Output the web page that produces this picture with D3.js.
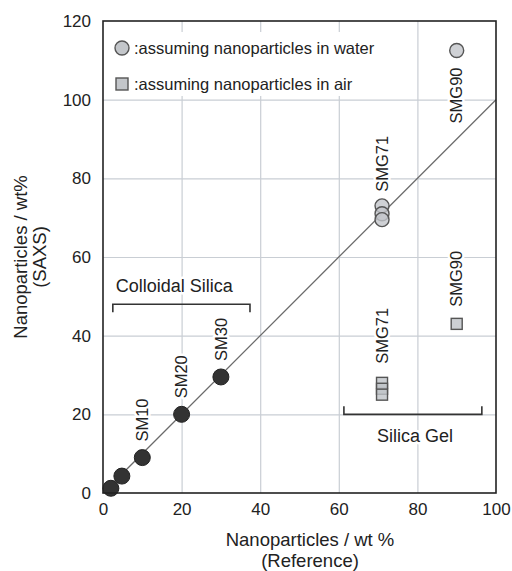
<!DOCTYPE html>
<html>
<head>
<meta charset="utf-8">
<script src="https://cdn.jsdelivr.net/npm/d3@7"></script>
<style>
  html, body { margin: 0; padding: 0; background: #fff; }
  svg { display: block; }
  text { font-family: "Liberation Sans", Arial, Helvetica, sans-serif; fill: #222; }
</style>
</head>
<body>
<svg id="chart" width="512" height="571"></svg>
<script>
// ---- data ----
const xTicks = [0, 20, 40, 60, 80, 100];
const yTicks = [0, 20, 40, 60, 80, 100, 120];
const colloidX = [2, 4.8, 10, 20, 30];
const colloidY = [1.2, 4.3, 9, 20, 29.5];
const colloidLabels = ["", "", "SM10", "SM20", "SM30"];
const waterX = [71, 71, 71, 90];
const waterY = [73, 71, 69.5, 112.5];
const airX = [71, 71, 71, 90];
const airY = [28, 26.5, 25, 43];
const legendLabels = [":assuming nanoparticles in water", ":assuming nanoparticles in air"];
const xTitle = ["Nanoparticles / wt %", "(Reference)"];
const yTitle = ["Nanoparticles / wt%", "(SAXS)"];
const bracketColloid = [2.5, 37.4, 48];
const bracketGel = [61.3, 96.4, 20];

// ---- layout ----
const svg = d3.select("#chart");
const L = 103, R = 496, T = 21, B = 493;
const x = d3.scaleLinear().domain([0, 100]).range([L, R]);
const y = d3.scaleLinear().domain([0, 120]).range([B, T]);
const gridColor = "#c9ced4";

// grid
svg.append("g").attr("transform", `translate(0,${B})`)
  .call(d3.axisBottom(x).tickValues(xTicks.slice(1, -1)).tickSize(-(B - T)).tickFormat(""))
  .call(g => g.select(".domain").remove())
  .call(g => g.selectAll("line").attr("stroke", gridColor).attr("stroke-width", 1.2));
svg.append("g").attr("transform", `translate(${L},0)`)
  .call(d3.axisLeft(y).tickValues(yTicks.slice(1, -1)).tickSize(-(R - L)).tickFormat(""))
  .call(g => g.select(".domain").remove())
  .call(g => g.selectAll("line").attr("stroke", gridColor).attr("stroke-width", 1.2));

// tick labels
svg.append("g").attr("transform", `translate(0,${B})`)
  .call(d3.axisBottom(x).tickValues(xTicks).tickSize(0).tickPadding(10))
  .call(g => g.select(".domain").remove())
  .call(g => g.selectAll("text").style("font-size", "17px").attr("fill", "#222").style("font-family", "Liberation Sans, Arial, sans-serif"));
svg.append("g").attr("transform", `translate(${L},0)`)
  .call(d3.axisLeft(y).tickValues(yTicks).tickSize(0).tickPadding(12))
  .call(g => g.select(".domain").remove())
  .call(g => g.selectAll("text").style("font-size", "17px").attr("fill", "#222").style("font-family", "Liberation Sans, Arial, sans-serif"));

// legend background
svg.append("rect").attr("x", L + 4).attr("y", 32).attr("width", 278).attr("height", 64).attr("fill", "#fff");

// diagonal y = x
svg.append("line")
  .attr("x1", x(0)).attr("y1", y(0)).attr("x2", x(100)).attr("y2", y(100))
  .attr("stroke", "#6a6a6a").attr("stroke-width", 1.3);

function halo(sel) {
  return sel.attr("stroke", "#fff").attr("stroke-width", 5).attr("paint-order", "stroke").attr("stroke-linejoin", "round");
}

// brackets
function bracket(b, dir) {
  const yy = y(b[2]);
  const t = 8 * dir;
  svg.append("path")
    .attr("d", `M${x(b[0])},${yy + t}V${yy}H${x(b[1])}V${yy + t}`)
    .attr("fill", "none").attr("stroke", "#333").attr("stroke-width", 1.6);
}
bracket(bracketColloid, 1);
bracket(bracketGel, -1);
halo(svg.append("text").attr("x", x(bracketColloid[0]) + 3).attr("y", y(bracketColloid[2]) - 12)
  .style("font-size", "18px").text("Colloidal Silica"));
halo(svg.append("text").attr("x", 415).attr("y", y(bracketGel[2]) + 28).attr("text-anchor", "middle")
  .style("font-size", "18px").text("Silica Gel"));

// air squares
const sq = 11;
svg.append("g").selectAll("rect").data(airX.map((d, i) => [d, airY[i]])).join("rect")
  .attr("x", d => x(d[0]) - sq / 2).attr("y", d => y(d[1]) - sq / 2)
  .attr("width", sq).attr("height", sq)
  .attr("fill", "#bfc3c8").attr("fill-opacity", 0.8)
  .attr("stroke", "#555").attr("stroke-width", 1.4);

// water circles
svg.append("g").selectAll("circle").data(waterX.map((d, i) => [d, waterY[i]])).join("circle")
  .attr("cx", d => x(d[0])).attr("cy", d => y(d[1])).attr("r", 7)
  .attr("fill", "#c3c6ca").attr("fill-opacity", 0.8)
  .attr("stroke", "#555").attr("stroke-width", 1.4);

// colloidal silica circles
svg.append("g").selectAll("circle").data(colloidX.map((d, i) => [d, colloidY[i]])).join("circle")
  .attr("cx", d => x(d[0])).attr("cy", d => y(d[1])).attr("r", 8)
  .attr("fill", "#333").attr("stroke", "#222").attr("stroke-width", 1);

// rotated labels
function vlabel(px, py, txt, anchor) {
  halo(svg.append("text")
    .attr("transform", `translate(${px},${py}) rotate(-90)`)
    .attr("dy", "0.35em").attr("text-anchor", anchor)
    .style("font-size", "16.5px").text(txt));
}
colloidLabels.forEach((lab, i) => {
  if (lab) vlabel(x(colloidX[i]), y(colloidY[i]) - 16, lab, "start");
});
vlabel(x(waterX[0]), y(waterY[0]) - 14, "SMG71", "start");
vlabel(x(waterX[3]), y(waterY[3]) + 17, "SMG90", "end");
vlabel(x(airX[0]), y(airY[0]) - 19, "SMG71", "start");
vlabel(x(airX[3]), y(airY[3]) - 17, "SMG90", "start");

// legend
svg.append("circle").attr("cx", 122).attr("cy", 48).attr("r", 7)
  .attr("fill", "#c3c6ca").attr("stroke", "#555").attr("stroke-width", 1.4);
svg.append("rect").attr("x", 122 - 6).attr("y", 84 - 6).attr("width", 12).attr("height", 12)
  .attr("fill", "#c3c6ca").attr("stroke", "#555").attr("stroke-width", 1.4);
svg.append("text").attr("x", 134).attr("y", 53.5).style("font-size", "16.5px").text(legendLabels[0]);
svg.append("text").attr("x", 134).attr("y", 89.5).style("font-size", "16.5px").text(legendLabels[1]);

// frame
svg.append("rect").attr("x", L).attr("y", T).attr("width", R - L).attr("height", B - T)
  .attr("fill", "none").attr("stroke", "#222").attr("stroke-width", 1.6);

// axis titles
svg.append("text").attr("x", 310).attr("y", 546).attr("text-anchor", "middle").style("font-size", "18.5px").text(xTitle[0]);
svg.append("text").attr("x", 310).attr("y", 567).attr("text-anchor", "middle").style("font-size", "18.5px").text(xTitle[1]);
svg.append("text").attr("transform", `translate(27,${(T + B) / 2}) rotate(-90)`).attr("text-anchor", "middle").style("font-size", "18.5px").text(yTitle[0]);
svg.append("text").attr("transform", `translate(46,${(T + B) / 2}) rotate(-90)`).attr("text-anchor", "middle").style("font-size", "18.5px").text(yTitle[1]);
</script>
</body>
</html>
